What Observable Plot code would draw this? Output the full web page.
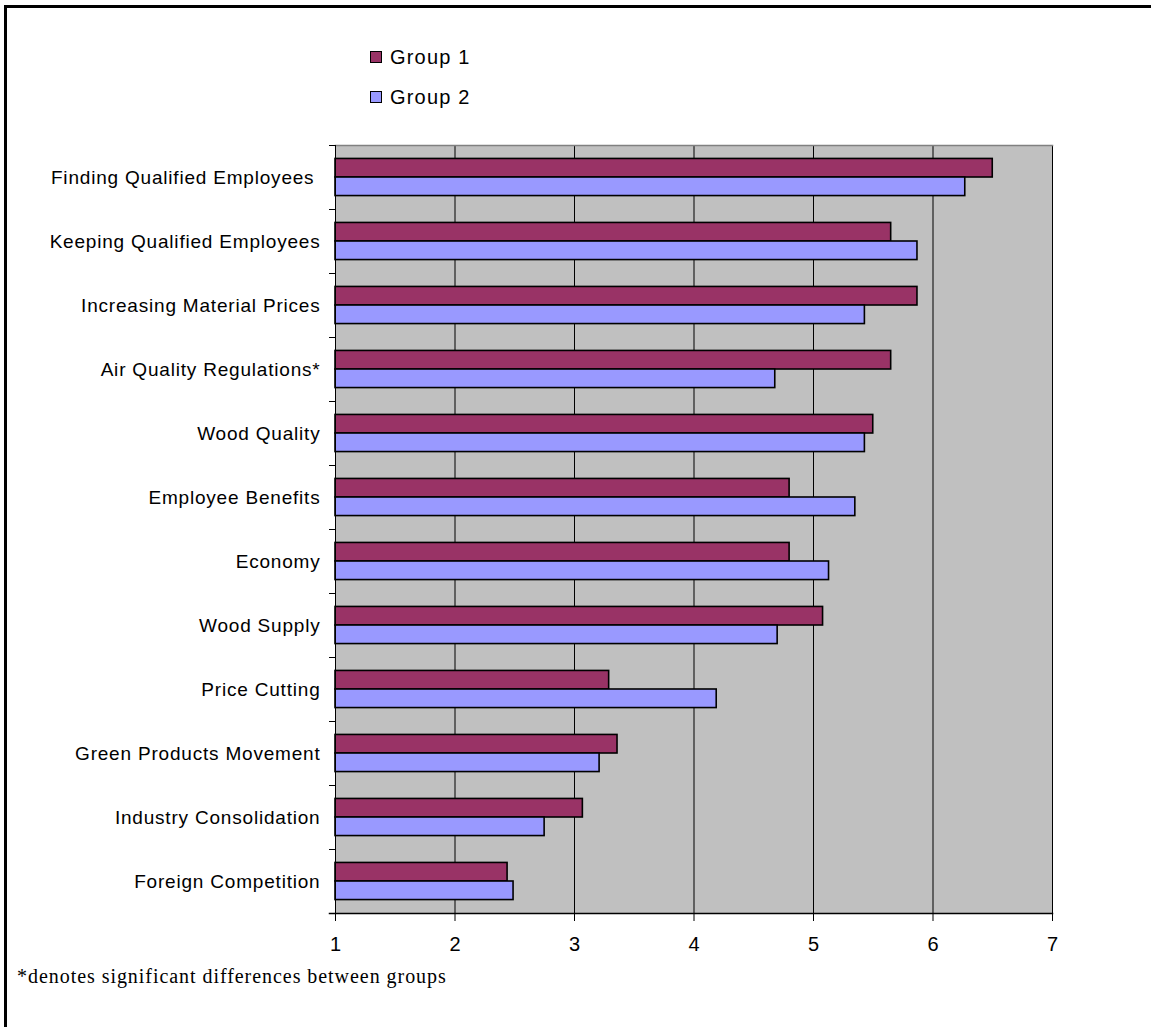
<!DOCTYPE html>
<html><head><meta charset="utf-8">
<script src="https://cdn.jsdelivr.net/npm/d3@7"></script>
<script src="https://cdn.jsdelivr.net/npm/@observablehq/plot@0.6"></script>
<style>
body{margin:0;background:#fff;}
#wrap{position:relative;width:1151px;height:1027px;overflow:hidden;font-family:Arial,"Liberation Sans",sans-serif;color:#000;}
#border{position:absolute;left:4px;top:5px;right:-10px;bottom:-10px;border-left:3px solid #000;border-top:3px solid #000;}
#chart{position:absolute;left:0;top:0;}
#chart svg g[aria-label="y-axis tick label"] text{letter-spacing:0.8px;}
#legend{position:absolute;left:370px;top:37px;font-size:20px;letter-spacing:1.2px;}
.item{height:40px;display:flex;align-items:center;}
.sw{width:10px;height:10px;border:1px solid #000;margin-right:8px;}
#caption{position:absolute;left:17px;top:965px;font-family:"Liberation Serif","Times New Roman",serif;font-size:20px;letter-spacing:0.95px;}
</style>
</head><body>
<div id="wrap">
<div id="border"></div>
<div id="chart"></div>
<div id="legend"></div>
<div id="caption">*denotes significant differences between groups</div>
</div>
<script>
const categories = [
  "Finding Qualified Employees\u00a0",
  "Keeping Qualified Employees",
  "Increasing Material Prices",
  "Air Quality Regulations*",
  "Wood Quality",
  "Employee Benefits",
  "Economy",
  "Wood Supply",
  "Price Cutting",
  "Green Products Movement",
  "Industry Consolidation",
  "Foreign Competition"
];
const group1 = [6.50, 5.65, 5.87, 5.65, 5.50, 4.80, 4.80, 5.08, 3.29, 3.36, 3.07, 2.44];
const group2 = [6.27, 5.87, 5.43, 4.68, 5.43, 5.35, 5.13, 4.70, 4.19, 3.21, 2.75, 2.49];
const seriesNames = ["Group 1", "Group 2"];
const seriesColors = ["#993366", "#9999FF"];
const xTicks = [1, 2, 3, 4, 5, 6, 7];

const rows = [];
categories.forEach((c, i) => {
  rows.push({category: c, group: seriesNames[0], value: group1[i]});
  rows.push({category: c, group: seriesNames[1], value: group2[i]});
});

const W = 1151, H = 960, mL = 335, mR = 99, mT = 145, mB = 47;
const xMin = xTicks[0], xMax = xTicks[xTicks.length - 1];
const step = (H - mT - mB) / categories.length;
const barH = step * 0.29;
const gap = (step - 2 * barH) / 2;

const chart = Plot.plot({
  width: W, height: H,
  marginLeft: mL, marginRight: mR, marginTop: mT, marginBottom: mB,
  style: {fontFamily: "Arial, 'Liberation Sans', sans-serif", fontSize: "19px", color: "#000", background: "transparent"},
  x: {domain: [xMin, xMax]},
  y: {domain: categories, padding: 0},
  color: {domain: seriesNames, range: seriesColors},
  marks: [
    Plot.frame({fill: "#c0c0c0"}),
    Plot.gridX(xTicks, {stroke: "#000", strokeOpacity: 1, strokeWidth: 1}),
    Plot.frame({anchor: "top", stroke: "#808080", strokeWidth: 1.5}),
    Plot.barX(rows.filter(d => d.group === seriesNames[0]), {
      x1: () => xMin, x2: "value", y: "category", fill: "group",
      stroke: "#000", strokeWidth: 1.6,
      insetTop: gap, insetBottom: step - gap - barH
    }),
    Plot.barX(rows.filter(d => d.group === seriesNames[1]), {
      x1: () => xMin, x2: "value", y: "category", fill: "group",
      stroke: "#000", strokeWidth: 1.6,
      insetTop: gap + barH, insetBottom: gap
    }),
    Plot.ruleX([xMin], {stroke: "#000", strokeWidth: 1}),
    Plot.ruleY(categories, {y: d => d, dy: -step / 2, x1: xMin - 0.05, x2: xMin, stroke: "#000"}),
    Plot.frame({anchor: "bottom", stroke: "#000", strokeWidth: 1.5, insetLeft: -6}),
    Plot.axisY({tickSize: 0, tickPadding: 15, fontSize: 19, label: null}),
    Plot.axisX({ticks: xTicks, tickSize: 8, tickPadding: 15, fontSize: 20, label: null, tickFormat: d => String(d)})
  ]
});
document.getElementById("chart").appendChild(chart);

const legend = document.getElementById("legend");
seriesNames.forEach((n, i) => {
  const it = document.createElement("div");
  it.className = "item";
  const sw = document.createElement("div");
  sw.className = "sw";
  sw.style.background = seriesColors[i];
  const t = document.createElement("span");
  t.textContent = n;
  it.appendChild(sw); it.appendChild(t);
  legend.appendChild(it);
});
</script>
</body></html>
